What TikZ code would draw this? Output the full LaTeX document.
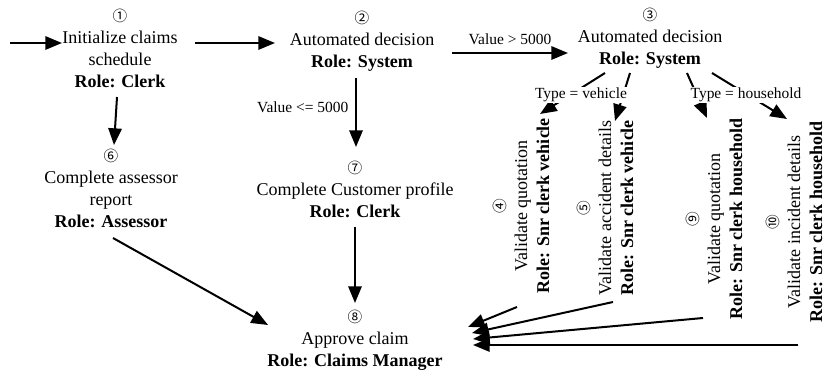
\documentclass[tikz,border=0pt]{standalone}
\usepackage{fontspec}
\setmainfont{Liberation Serif}
\newfontfamily\circfont{Noto Sans CJK SC}
\usetikzlibrary{arrows.meta,calc}

% circled step number above each task
\newcommand{\stepno}[1]{{\circfont\fontsize{11}{12}\selectfont #1}}

\begin{document}
\begin{tikzpicture}[x=0.75pt,y=-0.75pt,
  task/.style={align=center,inner sep=0pt,font=\fontsize{13.5}{16.5}\selectfont},
  vtask/.style={task,rotate=90},
  elabel/.style={font=\fontsize{11.6}{13}\selectfont,inner sep=1pt},
  flow/.style={line width=1.5pt,-{Triangle[length=12.5pt,width=10pt]}}]
\useasboundingbox (0,0) rectangle (826,374);

% tasks
\node[task] (n1) at (120,48) {\stepno{①}\\Initialize claims\\schedule\\\textbf{Role: Clerk}};
\node[task] (n2) at (362,41) {\stepno{②}\\Automated decision\\\textbf{Role: System}};
\node[task] (n3) at (650,38) {\stepno{③}\\Automated decision\\\textbf{Role: System}};
\node[task] (n6) at (111,188) {\stepno{⑥}\\Complete assessor\\report\\\textbf{Role: Assessor}};
\node[task] (n7) at (355,189) {\stepno{⑦}\\Complete Customer profile\\\textbf{Role: Clerk}};
\node[task] (n8) at (355,340) {\stepno{⑧}\\Approve claim\\\textbf{Role: Claims Manager}};
\node[vtask] (n4) at (521,206) {\stepno{④}\\Validate quotation\\\textbf{Role: Snr clerk vehicle}};
\node[vtask] (n5) at (605,208) {\stepno{⑤}\\Validate accident details\\\textbf{Role: Snr clerk vehicle}};
\node[vtask] (n9) at (714,219) {\stepno{⑨}\\Validate quotation\\\textbf{Role: Snr clerk household}};
\node[vtask] (n10) at (794,222) {\stepno{⑩}\\Validate incident details\\\textbf{Role: Snr clerk household}};

\coordinate (start) at (10,43);

% flows
\draw[flow] (start) -- ($(n1.center)+(-58,-5)$);
\draw[flow] ($(n1.center)+(75,-5)$) -- ($(n2.center)+(-87,2)$);
\draw[flow] ($(n2.center)+(90,12)$) -- ($(n3.center)+(-82,15)$);
\draw[flow] ($(n2.center)+(-6,37)$) -- ($(n7.center)+(1,-42)$);
\draw[flow] ($(n1.center)+(-3,49)$) -- ($(n6.center)+(3,-43)$);
\draw[flow] ($(n6.center)+(2,50)$) -- ($(n8.center)+(-87,-15)$);
\draw[flow] ($(n7.center)+(0,38)$) -- ($(n8.center)+(0,-37)$);
\draw[flow] ($(n3.center)+(-45,35)$) -- ($(n4.center)+(19,-92)$);
\draw[flow] ($(n3.center)+(-20,35)$) -- ($(n5.center)+(10,-87)$);
\draw[flow] ($(n3.center)+(37,35)$) -- ($(n9.center)+(-7,-101)$);
\draw[flow] ($(n3.center)+(62,35)$) -- ($(n10.center)+(-7,-103)$);
\draw[flow] ($(n4.center)+(-4,101)$) -- ($(n8.center)+(113,-13)$);
\draw[flow] ($(n5.center)+(8,94)$) -- ($(n8.center)+(117,-7)$);
\draw[flow] ($(n9.center)+(-11,99)$) -- ($(n8.center)+(118,-1)$);
\draw[flow] ($(n10.center)+(4,123)$) -- ($(n8.center)+(118,5)$);

% guard labels
\node[elabel] (lgt) at (510,39) {Value > 5000};
\node[elabel,anchor=east] (lle) at (350,107) {Value <= 5000};
\node[elabel,fill=white] (lveh) at (581,95) {Type = vehicle};
\node[elabel,fill=white] (lhh) at (746,95) {Type = household};
\end{tikzpicture}
\end{document}
